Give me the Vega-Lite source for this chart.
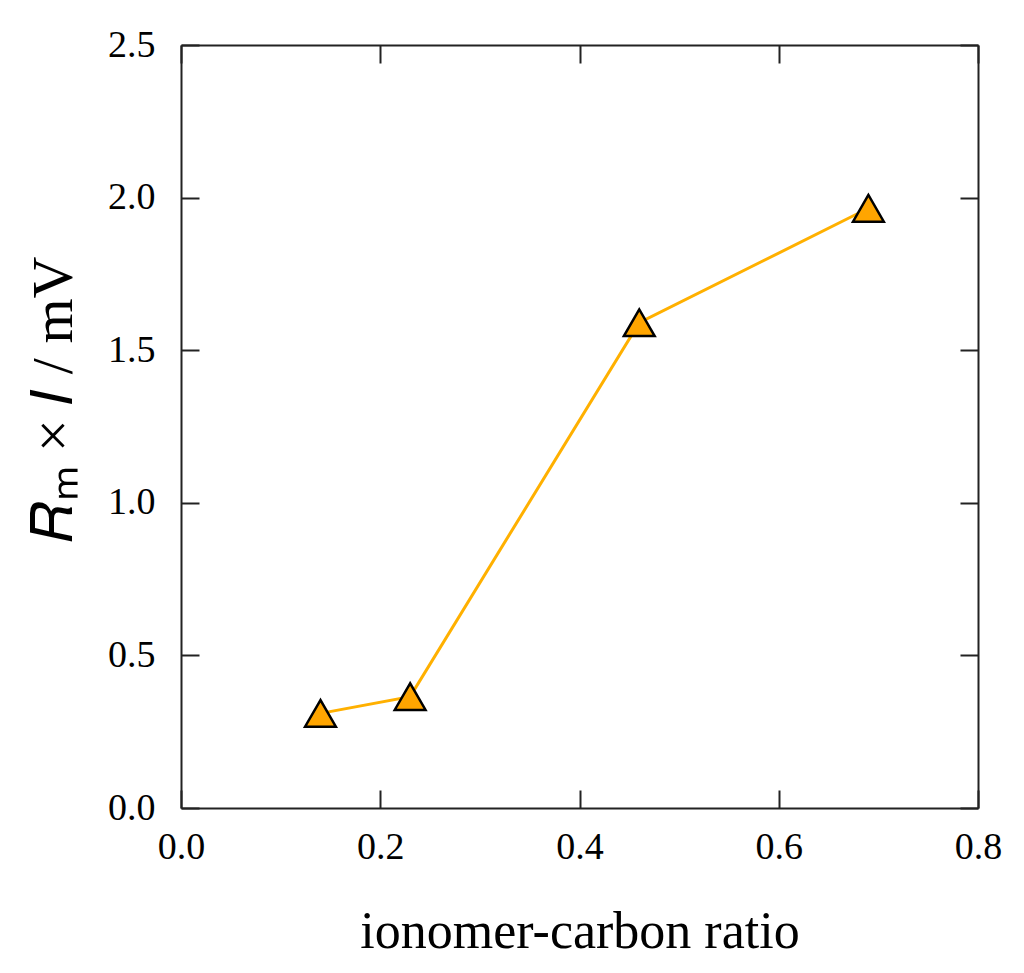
{
  "$schema": "https://vega.github.io/schema/vega-lite/v6.json",
  "width": 797,
  "height": 763,
  "autosize": {"type": "none"},
  "padding": {"left": 181, "top": 45, "right": 46, "bottom": 165},
  "background": "white",
  "config": {
    "view": {"stroke": null},
    "font": "Liberation Serif",
    "axis": {
      "domainColor": "#222222",
      "domainWidth": 2,
      "tickColor": "#222222",
      "tickWidth": 2,
      "tickSize": -18,
      "grid": false,
      "labelFont": "Liberation Serif",
      "labelFontSize": 38,
      "labelColor": "black",
      "titleFont": "Liberation Serif",
      "titleFontWeight": "normal",
      "titleColor": "black",
      "titleFontSize": 52
    }
  },
  "data": {
    "values": [
      {"ratio": 0.14, "value": 0.31},
      {"ratio": 0.23, "value": 0.365},
      {"ratio": 0.46, "value": 1.59},
      {"ratio": 0.69, "value": 1.965}
    ]
  },
  "encoding": {
    "x": {"field": "ratio", "type": "quantitative", "scale": {"domain": [0, 0.8], "nice": false, "zero": false}},
    "y": {"field": "value", "type": "quantitative", "scale": {"domain": [0, 2.5], "nice": false, "zero": false}}
  },
  "layer": [
    {
      "mark": {"type": "line", "color": "#FFB000", "strokeWidth": 3},
      "encoding": {
        "x": {"field": "ratio", "type": "quantitative", "axis": {"orient": "bottom", "values": [0, 0.2, 0.4, 0.6, 0.8], "format": ".1f", "title": "ionomer-carbon ratio", "labelPadding": 38, "titleY": 98, "labelFlush": false}},
        "y": {"field": "value", "type": "quantitative", "axis": {"orient": "left", "values": [0, 0.5, 1, 1.5, 2, 2.5], "format": ".1f", "title": "𝑅ₘ × 𝐼 / mV", "titleFontSize": 58, "labelPadding": 44, "titleX": -98, "titleY": 354, "labelFlush": false}}
      }
    },
    {
      "mark": {"type": "point", "shape": "triangle-up", "filled": true, "fill": "#FFA500", "stroke": "black", "strokeWidth": 2.5, "size": 950, "opacity": 1},
      "encoding": {
        "x": {"field": "ratio", "type": "quantitative", "axis": {"orient": "top", "values": [0, 0.2, 0.4, 0.6, 0.8], "labels": false, "title": null}},
        "y": {"field": "value", "type": "quantitative", "axis": {"orient": "right", "values": [0, 0.5, 1, 1.5, 2, 2.5], "labels": false, "title": null}}
      }
    }
  ],
  "resolve": {"axis": {"x": "independent", "y": "independent"}}
}
